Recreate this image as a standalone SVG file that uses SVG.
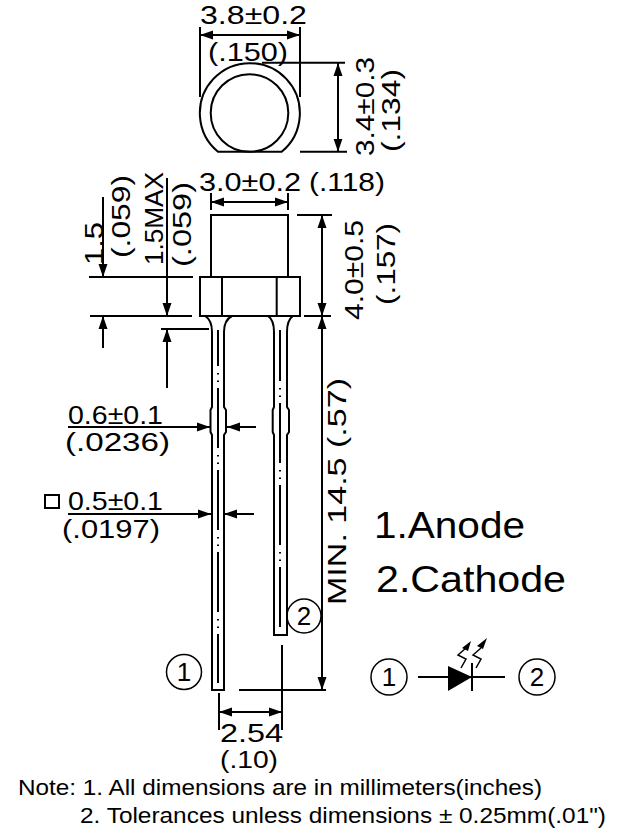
<svg xmlns="http://www.w3.org/2000/svg" width="625" height="831" viewBox="0 0 625 831">
<style>
.l{fill:none;stroke:#000;stroke-width:2}
.t{stroke-width:1.5}
.a{marker-end:url(#h)}
.b{marker-start:url(#h);marker-end:url(#h)}
.c{fill:none;stroke:#000;stroke-width:2;stroke-dasharray:60 7 1.5 6 1.5 6}
text{font-family:"Liberation Sans",Arial,sans-serif;fill:#000}
.d{font-size:26px}
.big{font-size:36px}
.note{font-size:22px}
</style>
<defs>
<marker id="h" markerUnits="userSpaceOnUse" markerWidth="15" markerHeight="10" refX="13" refY="5" orient="auto-start-reverse"><path d="M0 .5L13 5L0 9.500Z" fill="#000"/></marker>
</defs>
<rect width="625" height="831" fill="#fff"/>
<g id="connectors">
<path class="l" d="M200 27V97M300 27V97M262 62.700H345M300 151.700H347"/>
<path class="l b" d="M200 35H300"/>
<path class="l b" d="M338 63V151.700"/>
<path class="l" d="M211 193V210M288 193V210M297 215H332M304 316H331M89 277H193M90 316H192M161 329H209M239 690H326M282 645V730M219 693V730"/>
<path class="l b" d="M211 202H288"/>
<path class="l b" d="M322 215V316"/>
<path class="l b" d="M322 316V690"/>
<path class="l a" d="M103 197V277"/>
<path class="l a" d="M167 178V316"/>
<path class="l a" d="M103 348V316"/>
<path class="l a" d="M167 388V329"/>
<path class="l a" d="M68 427H210"/>
<path class="l a" d="M256 427H227"/>
<path class="l a" d="M68 514H211"/>
<path class="l a" d="M254 514H224"/>
<path class="l b" d="M219 712H282"/>
</g>
<g id="top-view">
<path class="l" d="M218 151.700A50 50 0 1 1 281.700 151.700Z"/>
<circle class="l" cx="249.500" cy="113" r="38.800"/>
</g>
<g id="body">
<rect class="l" x="211" y="215" width="77" height="62"/>
<rect class="l" x="200" y="277" width="100" height="39"/>
<path class="l" d="M222 277V316M276.700 277V316"/>
</g>
<g id="lead-1">
<path class="l" d="M205 316Q212 320 212 332V407L210.500 410V432L212 435V690H224V435L226 432V410L224 407V332Q224 320 232 316"/>
<path class="c" stroke-dashoffset="24" d="M218 330V683"/>
</g>
<g id="lead-2">
<path class="l" d="M268 316Q274 320 274 332V407L272.700 410V432L274 435V635H287V435L289 432V410L287 407V332Q287 320 293 316"/>
<path class="c" stroke-dashoffset="9" d="M280 330V628"/>
</g>
<g id="dim-labels">
<text class="d" x="200" y="24" textLength="107" lengthAdjust="spacingAndGlyphs">3.8±0.2</text>
<text class="d" x="208" y="60.500" textLength="80" lengthAdjust="spacingAndGlyphs">(.150)</text>
<text class="d" transform="translate(374 156) rotate(-90)" textLength="99" lengthAdjust="spacingAndGlyphs">3.4±0.3</text>
<text class="d" transform="translate(400 152) rotate(-90)" textLength="83" lengthAdjust="spacingAndGlyphs">(.134)</text>
<text class="d" x="199" y="191" textLength="102" lengthAdjust="spacingAndGlyphs">3.0±0.2</text>
<text class="d" x="309" y="191" textLength="76" lengthAdjust="spacingAndGlyphs">(.118)</text>
<text class="d" transform="translate(363 320) rotate(-90)" textLength="100" lengthAdjust="spacingAndGlyphs">4.0±0.5</text>
<text class="d" transform="translate(395 305) rotate(-90)" textLength="82" lengthAdjust="spacingAndGlyphs">(.157)</text>
<text class="d" transform="translate(103 265) rotate(-90)" textLength="43" lengthAdjust="spacingAndGlyphs">1.5</text>
<text class="d" transform="translate(130 258) rotate(-90)" textLength="83" lengthAdjust="spacingAndGlyphs">(.059)</text>
<text class="d" transform="translate(163 265) rotate(-90)" textLength="93" lengthAdjust="spacingAndGlyphs">1.5MAX</text>
<text class="d" transform="translate(191 267) rotate(-90)" textLength="85" lengthAdjust="spacingAndGlyphs">(.059)</text>
<text class="d" x="68" y="424" textLength="95" lengthAdjust="spacingAndGlyphs">0.6±0.1</text>
<text class="d" x="65" y="451" textLength="105" lengthAdjust="spacingAndGlyphs">(.0236)</text>
<rect class="l" x="45" y="495" width="14" height="13"/>
<text class="d" x="68" y="510" textLength="95" lengthAdjust="spacingAndGlyphs">0.5±0.1</text>
<text class="d" x="62" y="538" textLength="98" lengthAdjust="spacingAndGlyphs">(.0197)</text>
<text class="d" transform="translate(346 605) rotate(-90)" textLength="227" lengthAdjust="spacingAndGlyphs">MIN. 14.5 (.57)</text>
<text class="d" x="220" y="742" textLength="63" lengthAdjust="spacingAndGlyphs">2.54</text>
<text font-size="23" x="220" y="768" textLength="58" lengthAdjust="spacingAndGlyphs">(.10)</text>
</g>
<g id="pin-1">
<circle class="l t" cx="184" cy="672" r="17.500"/>
<text class="d" x="184" y="681" text-anchor="middle">1</text>
</g>
<g id="pin-2">
<circle class="l t" cx="304" cy="616" r="17"/>
<text class="d" x="304" y="625" text-anchor="middle">2</text>
</g>
<g id="legend">
<text class="big" x="374" y="538" textLength="151" lengthAdjust="spacingAndGlyphs">1.Anode</text>
<text class="big" x="376" y="592" textLength="190" lengthAdjust="spacingAndGlyphs">2.Cathode</text>
</g>
<g id="led-symbol">
<circle class="l t" cx="389" cy="677" r="18"/>
<text class="d" x="389" y="686" text-anchor="middle">1</text>
<circle class="l t" cx="537" cy="677" r="18"/>
<text class="d" x="537" y="686" text-anchor="middle">2</text>
<path class="l" d="M418 677H505M472 663V691"/>
<path d="M448 666V691L472 677Z" fill="#000"/>
<path class="l t" d="M466 648L458 655L466 659L461 668M481 648L473 655L481 659L476 668"/>
<path d="M471 641L462 648L468 651ZM487 638L477 646L483 649Z" fill="#000"/>
</g>
<g id="notes">
<text class="note" x="18" y="795" textLength="524" lengthAdjust="spacingAndGlyphs">Note: 1. All dimensions are in millimeters(inches)</text>
<text class="note" x="80" y="823" textLength="526" lengthAdjust="spacingAndGlyphs">2. Tolerances unless dimensions ± 0.25mm(.01")</text>
</g>
</svg>
